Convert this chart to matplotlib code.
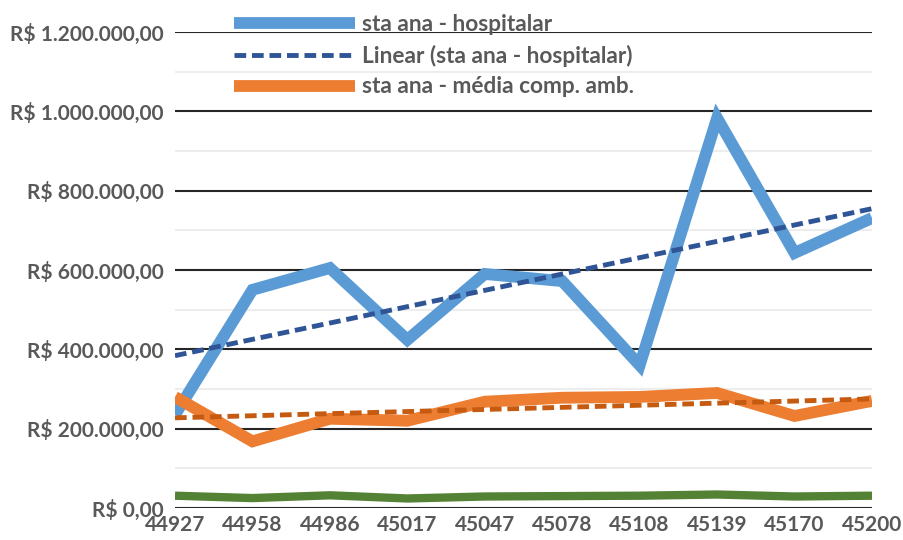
import numpy as np
import matplotlib.pyplot as plt
from matplotlib.ticker import FuncFormatter, MultipleLocator

# category labels (excel serial dates shown as numbers)
dates = ['44927', '44958', '44986', '45017', '45047', '45078', '45108', '45139', '45170', '45200']

hospitalar = [235000, 550000, 605000, 424000, 590000, 572000, 360000, 983000, 643000, 731000]
media_amb = [280000, 168000, 225000, 220000, 268000, 278000, 280000, 290000, 232000, 270000]
outro = [31000, 25000, 32000, 24000, 29000, 30000, 31000, 34000, 29000, 31000]

plt.rcParams['font.family'] = ['Lato', 'DejaVu Sans']

fig = plt.figure(figsize=(9.04, 5.40), dpi=100)
ax = fig.add_axes([175 / 904, 1 - 508 / 540, 697 / 904, 476 / 540])

x = np.arange(len(dates))

def trend(y):
    k, b = np.polyfit(x, y, 1)
    return k * x + b

ax.plot(x, outro, color='#548235', lw=6, solid_capstyle='butt', zorder=3)
l1, = ax.plot(x, hospitalar, color='#5B9BD5', lw=8.5, solid_joinstyle='miter',
              solid_capstyle='butt', zorder=3, label='sta ana - hospitalar')
l3, = ax.plot(x, media_amb, color='#ED7D31', lw=8.5, solid_joinstyle='miter',
              solid_capstyle='butt', zorder=3, label='sta ana - média comp. amb.')
l2, = ax.plot(x, trend(hospitalar), color='#2F5597', lw=3.5, ls=(0, (2.4, 1.2)),
              zorder=4, label='Linear (sta ana - hospitalar)')
ax.plot(x, trend(media_amb), color='#C55A11', lw=3.5, ls=(0, (2.4, 1.2)), zorder=4)

ax.set_xlim(0, 9)
ax.set_ylim(0, 1200000)
ax.set_xticks(x)
ax.set_xticklabels(dates)
ax.yaxis.set_major_locator(MultipleLocator(200000))
ax.yaxis.set_minor_locator(MultipleLocator(100000))

def brl(v, pos):
    s = '{:,.2f}'.format(v).replace(',', 'X').replace('.', ',').replace('X', '.')
    return 'R$ ' + s

ax.yaxis.set_major_formatter(FuncFormatter(brl))
ax.grid(which='minor', axis='y', color='#EDEDED', lw=1.5, zorder=0)
ax.grid(which='major', axis='y', color='#262626', lw=1.5, zorder=1)
ax.grid(axis='x', visible=False)
# zero line is light in the original
ax.get_ygridlines()[0].set_color('#D9D9D9')

for s in ax.spines.values():
    s.set_visible(False)
ax.tick_params(axis='both', which='both', length=0, labelcolor='#595959')
ax.tick_params(axis='y', labelsize=15, pad=8)
ax.tick_params(axis='x', labelsize=15, pad=5)
for t in ax.get_xticklabels() + ax.get_yticklabels():
    t.set_fontweight('bold')

leg = fig.legend(handles=[l1, l2, l3], loc='upper left', bbox_to_anchor=(214 / 904, 1 + 6 / 540),
                 frameon=False, handlelength=5.35, labelspacing=0.42, handletextpad=0.3,
                 prop={'size': 16.3, 'weight': 'bold'})
for t in leg.get_texts():
    t.set_color('#595959')
for h in leg.legend_handles:
    h.set_solid_capstyle('butt')

fig.savefig('out.png', dpi=100)
